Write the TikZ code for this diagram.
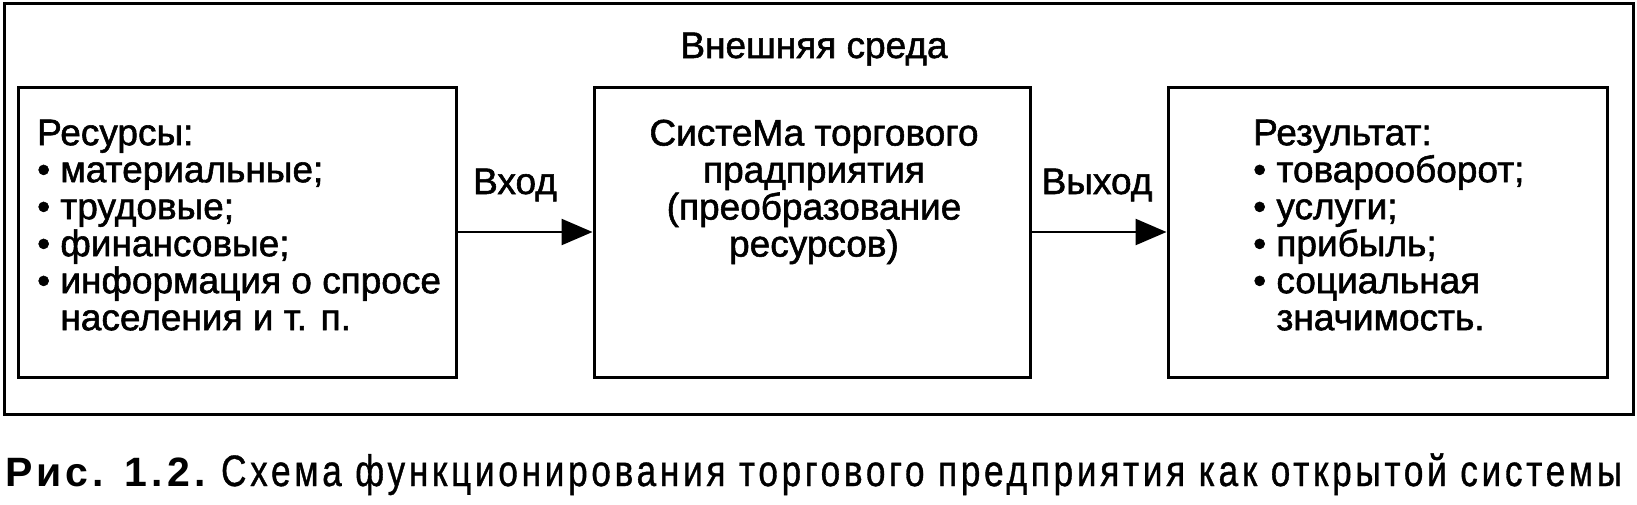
\documentclass[tikz,border=0pt]{standalone}
\usepackage{fontspec}
\setmainfont{Liberation Sans}
\newfontfamily\bodyf[FakeBold=1.5]{Liberation Sans}
\newfontfamily\capboldf[LetterSpace=10]{Liberation Sans}
\newfontfamily\capregf[FakeStretch=0.8,LetterSpace=8.4,FakeBold=0.8]{Liberation Sans}
\usetikzlibrary{arrows.meta}
\begin{document}
\begin{tikzpicture}[x=1pt,y=-1pt,
  box/.style={draw,line width=3pt,inner sep=0pt},
  txt/.style={inner sep=0pt,font=\bodyf\fontsize{37}{37}\selectfont},
  arr/.style={line width=2.5pt,-{Triangle[length=31pt,width=26pt]}}]
\useasboundingbox (0,0) rectangle (1637,504);
\node[box,minimum width=1629pt,minimum height=411pt] (outer) at (818.5,208.5) {};
\node[box,minimum width=438pt,minimum height=290pt] (res) at (237,232) {};
\node[box,minimum width=436pt,minimum height=290pt] (sys) at (812,232) {};
\node[box,minimum width=439pt,minimum height=290pt] (out) at (1387.5,232) {};
\draw[arr] (res.east) -- (sys.west);
\draw[arr] (sys.east) -- (out.west);
\node[txt,anchor=base] (title) at (814,58) {Внешняя среда};
\node[txt,anchor=base] (vhod) at (515,194) {Вход};
\node[txt,anchor=base] (vyhod) at (1097,194) {Выход};
\node[txt,anchor=north west,align=left] (restxt) at (37,119.5) {Ресурсы:\\• материальные;\\• трудовые;\\• финансовые;\\• информация о спросе\\\hphantom{• }населения и т. п.};
\node[txt,anchor=north,align=center] (systxt) at (814,119.5) {СистеМа торгового\\прадприятия\\(преобразование\\ресурсов)};
\node[txt,anchor=north west,align=left] (outtxt) at (1253,119.5) {Результат:\\• товарооборот;\\• услуги;\\• прибыль;\\• социальная\\\hphantom{• }значимость.};
\node[inner sep=0pt,anchor=base west] (caption) at (5,486) {\capboldf\bfseries\fontsize{41}{44}\selectfont Рис. 1.2.\ {\capregf\mdseries\fontsize{44}{48}\selectfont Схема функционирования торгового предприятия как открытой системы}};
\end{tikzpicture}
\end{document}
